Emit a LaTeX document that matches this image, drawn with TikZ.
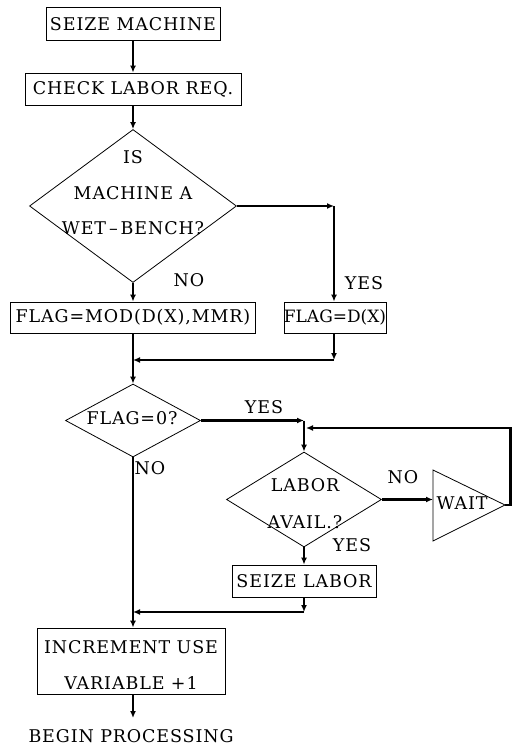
\documentclass[tikz,border=0pt]{standalone}
\usepackage{fontspec}
\setmainfont{DejaVu Serif}[LetterSpace=5]
\usetikzlibrary{shapes.geometric,arrows.meta}
\begin{document}
\begin{tikzpicture}[x=1pt,y=-1pt,
  txt/.style={font=\fontsize{17.5}{20}\selectfont, inner sep=0pt},
  box/.style={draw, line width=0.8pt, inner sep=0pt, txt},
  dia/.style={draw, diamond, line width=0.8pt, inner sep=0pt},
  conn/.style={line width=2.6pt, -{Latex[length=7pt,width=6pt]}},
  plain/.style={line width=2.6pt},
  thinline/.style={line width=0.8pt}
]
\useasboundingbox (0,0) rectangle (513,746);

% top boxes
\node[box, minimum width=174pt, minimum height=33pt] (sm) at (133,24) {SEIZE MACHINE};
\node[box, minimum width=216pt, minimum height=32pt] (clr) at (133,89) {CHECK LABOR REQ.};
\draw[conn] (sm.south) -- (clr.north);

% diamond 1
\node[dia, minimum width=207pt, minimum height=153pt] (d1) at (133,206) {};
\node[txt] (d1a) at (133,157) {IS};
\node[txt] (d1b) at (133,193) {MACHINE A};
\node[txt] (d1c) at (133,228) {WET\,–\,BENCH?};
\draw[conn] (clr.south) -- (d1.north);

\node[box, minimum width=245pt, minimum height=31pt] (fmod) at (133,317.5) {FLAG=MOD(D(X),MMR)};
\node[box, minimum width=100pt, minimum height=31pt,
      font=\fontsize{17}{19}\selectfont\addfontfeatures{LetterSpace=0}] (fdx) at (335,317.5) {FLAG=D(X)};
\node[txt] (no1) at (189,280) {NO};
\node[txt] (yes1) at (364,283) {YES};

\draw[conn] (d1.south) -- (fmod.north);
\coordinate (j1) at (334,206);
\draw[conn] (d1.east) -- (j1);
\draw[conn] (j1) -- (j1 |- fdx.north);
\coordinate (j1b) at (334,360);
\coordinate (m1) at (133,360);
\draw[conn] (j1 |- fdx.south) -- (j1b);
\draw[conn] (j1b) -- (m1);
\draw[plain] (fmod.south) -- (m1);

% diamond 2
\node[dia, minimum width=135pt, minimum height=73pt] (d2) at (133,420.5) {};
\node[txt] (d2t) at (132,418) {FLAG=0?};
\draw[conn] (m1) -- (d2.north);
\node[txt] (yes2) at (264,407) {YES};
\node[txt] (no2) at (150,468) {NO};

% diamond 3
\node[dia, minimum width=155pt, minimum height=95pt] (d3) at (304,499.5) {};
\node[txt] (d3a) at (305,485) {LABOR};
\node[txt] (d3b) at (305,522) {AVAIL.?};
\coordinate (j2) at (304,420.5);
\draw[conn] (d2.east) -- (j2);
\draw[conn] (j2) -- (d3.north);
\node[txt] (no3) at (403,477) {NO};
\node[txt] (yes3) at (352,545) {YES};

% wait
\coordinate (wt) at (433,470);
\coordinate (wb) at (433,541);
\coordinate (wap) at (505,505);
\draw[thinline] (wt) -- (wap) -- (wb) -- cycle;
\node[txt] (wait) at (462,503) {WAIT};
\draw[conn] (d3.east) -- (d3.east -| wt);
\coordinate (lr) at (510.5,505);
\coordinate (j3) at (306,428);
\draw[conn] (wap) -- (lr) |- (j3);

% seize labor
\node[box, minimum width=144pt, minimum height=32pt] (sl) at (304,581) {SEIZE LABOR};
\draw[conn] (d3.south) -- (sl.north);
\coordinate (j4) at (304,612);
\coordinate (m2) at (133,612);
\draw[conn] (sl.south) -- (j4);
\draw[conn] (j4) -- (m2);

% increment
\node[draw, thinline, minimum width=188pt, minimum height=66pt, inner sep=0pt] (inc) at (131,661) {};
\node[txt] (inca) at (131,647) {INCREMENT USE};
\node[txt] (incb) at (131,683) {VARIABLE +1};
\draw[conn] (d2.south) -- (d2.south |- inc.north);

\coordinate (e) at (133,718);
\draw[conn] (d2.south |- inc.south) -- (e);
\node[txt] (bp) at (131,736) {BEGIN PROCESSING};
\end{tikzpicture}
\end{document}
